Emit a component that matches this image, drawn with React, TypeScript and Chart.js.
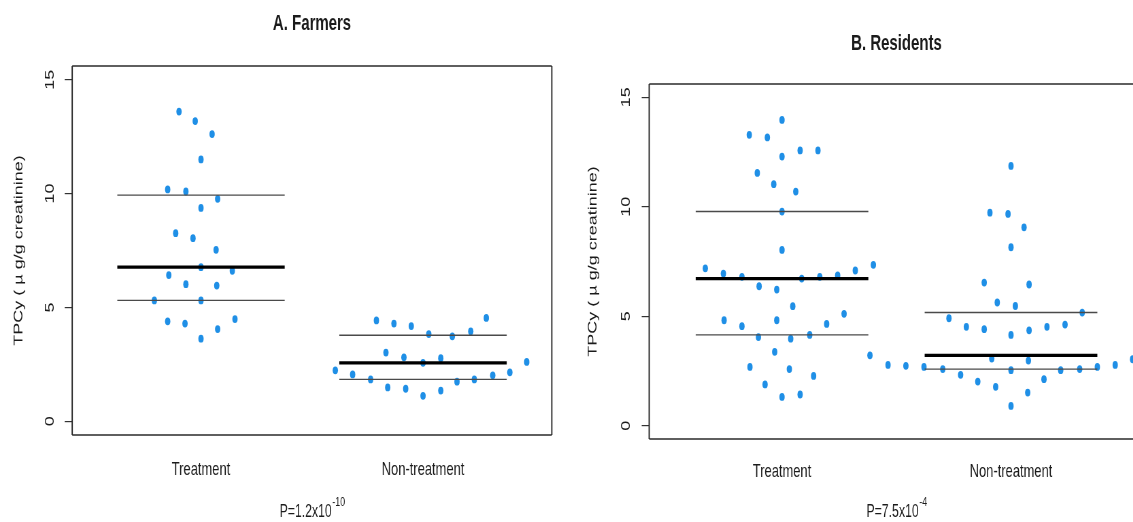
import React, { useEffect, useRef } from 'react';
import { Chart, registerables } from 'chart.js';

Chart.register(...registerables);

// ---------------- data ----------------
const categories = ['Treatment', 'Non-treatment'];
const yTickValues = [0, 5, 10, 15];
const yAxisTitle = 'TPCy ( µ g/g creatinine)';

// A. Farmers
const farmersTreatment = [13.6, 13.18, 12.61, 11.5, 10.18, 10.09, 9.77, 9.37, 8.26, 8.04, 7.53, 6.77, 6.61, 6.42, 6.02, 5.96, 5.31, 5.31, 4.39, 4.29, 4.49, 4.05, 3.63];
// horizontal beeswarm offsets (category units)
const farmersTreatmentSwarm = [-0.099, -0.026, 0.05, 0, -0.15, -0.068, 0.075, 0, -0.114, -0.036, 0.068, 0, 0.141, -0.145, -0.068, 0.071, -0.21, 0, -0.15, -0.072, 0.153, 0.075, 0];
const farmersControl = [4.43, 4.29, 4.18, 3.83, 3.73, 3.95, 4.54, 3.02, 2.81, 2.57, 2.77, 2.61, 2.24, 2.06, 1.84, 1.49, 1.43, 1.12, 1.35, 1.74, 1.84, 2.02, 2.15];
const farmersControlSwarm = [-0.21, -0.131, -0.053, 0.026, 0.132, 0.215, 0.285, -0.167, -0.086, 0, 0.08, 0.467, -0.395, -0.317, -0.236, -0.159, -0.078, 0, 0.08, 0.153, 0.231, 0.314, 0.391];

// B. Residents
const residentsTreatment = [13.96, 13.28, 13.16, 12.29, 12.57, 12.57, 11.54, 11.03, 10.69, 9.78, 8.03, 7.19, 6.95, 6.8, 6.72, 6.8, 6.86, 7.09, 7.35, 6.37, 6.22, 5.46, 5.11, 4.82, 4.55, 4.82, 4.65, 4.05, 3.98, 4.15, 3.38, 2.69, 2.59, 2.28, 1.89, 1.32, 1.43];
const residentsTreatmentSwarm = [0, -0.143, -0.064, 0, 0.079, 0.157, -0.108, -0.036, 0.06, 0, 0, -0.335, -0.256, -0.175, 0.086, 0.165, 0.243, 0.32, 0.399, -0.1, -0.023, 0.047, 0.271, -0.253, -0.175, -0.023, 0.195, -0.103, 0.038, 0.121, -0.032, -0.14, 0.032, 0.138, -0.074, 0, 0.079];
// last value lies beyond the cropped right edge (estimated)
const residentsControl = [11.86, 9.73, 9.67, 9.06, 8.15, 6.54, 6.45, 5.63, 5.47, 5.17, 4.91, 4.52, 4.41, 4.15, 4.36, 4.52, 4.62, 3.22, 2.78, 2.74, 2.69, 2.59, 2.33, 2.02, 1.78, 0.91, 1.52, 2.13, 2.54, 2.59, 2.69, 2.78, 3.04, 3.07, 2.98, 2.54, 3.35];
const residentsControlSwarm = [0, -0.092, -0.013, 0.057, 0, -0.117, 0.079, -0.06, 0.019, 0.311, -0.271, -0.195, -0.117, 0, 0.079, 0.157, 0.236, -0.616, -0.537, -0.459, -0.38, -0.298, -0.22, -0.145, -0.067, 0, 0.073, 0.144, 0.217, 0.3, 0.377, 0.455, 0.531, -0.084, 0.076, 0, 0.611];

// ---------------- style / layout ----------------
const SQUEEZE = 0.68; // the reference figure is horizontally compressed
const FAMILY = "'Liberation Sans', Arial, Helvetica, sans-serif";
const TEXT = '#1b1b1b';
const DOT = '#1F8FE6';
const HALF = 0.377;
const PAGE_H = 522;

const panels = [
  {
    key: 'A', title: 'A. Farmers', pMant: '1.2', pExp: '-10',
    left: 0, width: 570,
    frameLeft: 72.2, frameRight: 551.8, frameTop: 66, frameBottom: 435,
    titleBaseline: 30, tickLabelGap: 22, yTitleX: 19, catPad: 23, pBaseline: 517,
    treatment: farmersTreatment, treatmentSwarm: farmersTreatmentSwarm,
    control: farmersControl, controlSwarm: farmersControlSwarm,
  },
  {
    key: 'B', title: 'B. Residents', pMant: '7.5', pExp: '-4',
    left: 570, width: 600,
    frameLeft: 649.2, frameRight: 1143.8, frameTop: 84, frameBottom: 439,
    titleBaseline: 50, tickLabelGap: 23, yTitleX: 593, catPad: 21, pBaseline: 517,
    treatment: residentsTreatment, treatmentSwarm: residentsTreatmentSwarm,
    control: residentsControl, controlSwarm: residentsControlSwarm,
  },
];

function quantile(arr: number[], p: number) {
  const s = [...arr].sort((a, b) => a - b);
  const h = (s.length - 1) * p;
  const lo = Math.floor(h);
  const hi = Math.min(lo + 1, s.length - 1);
  return s[lo] + (h - lo) * (s[hi] - s[lo]);
}

const panelTextPlugin = {
  id: 'panelText',
  afterDraw(chart: any, _args: any, opts: any) {
    const { ctx, chartArea } = chart;
    const { left, right, top, bottom } = chartArea;
    ctx.save();
    // box around plot region
    ctx.strokeStyle = '#2b2b2b';
    ctx.lineWidth = 1.3;
    ctx.beginPath();
    ctx.moveTo(left, top); ctx.lineTo(right, top);
    ctx.moveTo(left, bottom); ctx.lineTo(right, bottom);
    ctx.stroke();
    ctx.lineWidth = 1.3 / SQUEEZE;
    ctx.beginPath();
    ctx.moveTo(left, top); ctx.lineTo(left, bottom);
    ctx.moveTo(right, top); ctx.lineTo(right, bottom);
    ctx.stroke();

    const cx = (left + right) / 2;
    ctx.fillStyle = TEXT;
    ctx.textBaseline = 'alphabetic';
    ctx.textAlign = 'center';
    ctx.font = `bold 22px ${FAMILY}`;
    ctx.fillText(opts.title, cx, opts.titleBaseline);

    const base = `P=${opts.pMant}x10`;
    ctx.font = `18px ${FAMILY}`;
    const w1 = ctx.measureText(base).width;
    ctx.font = `13px ${FAMILY}`;
    const w2 = ctx.measureText(opts.pExp).width;
    const x0 = cx - (w1 + w2) / 2;
    ctx.textAlign = 'left';
    ctx.font = `18px ${FAMILY}`;
    ctx.fillText(base, x0, opts.pBaseline);
    ctx.font = `13px ${FAMILY}`;
    ctx.fillText(opts.pExp, x0 + w1 + 1, opts.pBaseline - 11);
    ctx.restore();
  },
};

function buildConfig(s: any) {
  const W = Math.round(s.width / SQUEEZE);
  const u = (x: number) => (x - s.left) / SQUEEZE;
  const groups = [
    { vals: s.treatment, swarm: s.treatmentSwarm, pos: 1 },
    { vals: s.control, swarm: s.controlSwarm, pos: 2 },
  ];
  const lineSets: any[] = [];
  groups.forEach((g) => {
    [
      { q: 0.5, w: 3.3, c: '#000000' },
      { q: 0.25, w: 1.4, c: '#4a4a4a' },
      { q: 0.75, w: 1.4, c: '#4a4a4a' },
    ].forEach((st) => {
      const v = quantile(g.vals, st.q);
      lineSets.push({
        type: 'line',
        data: [{ x: g.pos - HALF, y: v }, { x: g.pos + HALF, y: v }],
        borderColor: st.c,
        borderWidth: st.w,
        pointRadius: 0,
        borderCapStyle: 'butt',
        order: 0,
      });
    });
  });
  const dotSets = groups.map((g) => ({
    type: 'scatter',
    data: g.vals.map((v: number, i: number) => ({ x: g.pos + g.swarm[i], y: v })),
    backgroundColor: DOT,
    borderWidth: 0,
    pointRadius: 3.9,
    pointBorderWidth: 0,
    order: 1,
  }));
  const tickLen = 7.5 / SQUEEZE;
  return {
    type: 'scatter',
    data: { datasets: [...lineSets, ...dotSets] },
    plugins: [panelTextPlugin],
    options: {
      responsive: false,
      animation: false,
      devicePixelRatio: 1,
      events: [],
      layout: { padding: { top: s.frameTop, right: W - u(s.frameRight), left: 0, bottom: 0 } },
      plugins: {
        legend: { display: false },
        tooltip: { enabled: false },
        panelText: {
          title: s.title, titleBaseline: s.titleBaseline,
          pMant: s.pMant, pExp: s.pExp, pBaseline: s.pBaseline,
        },
      },
      scales: {
        x: {
          type: 'linear', min: 0.42, max: 2.58,
          afterBuildTicks: (sc: any) => { sc.ticks = [1, 2].map((value) => ({ value })); },
          afterFit: (sc: any) => { sc.height = PAGE_H - s.frameBottom; },
          grid: { display: false, drawTicks: false },
          border: { display: false },
          ticks: {
            callback: (v: any) => categories[Math.round(v) - 1] ?? '',
            font: { family: FAMILY, size: 19 },
            color: TEXT,
            padding: s.catPad,
            maxRotation: 0, minRotation: 0, autoSkip: false,
          },
        },
        y: {
          type: 'linear', min: -0.6, max: 15.6,
          afterBuildTicks: (sc: any) => { sc.ticks = yTickValues.map((value) => ({ value })); },
          afterFit: (sc: any) => { sc.width = u(s.frameLeft); },
          grid: { drawOnChartArea: false, drawTicks: true, tickLength: tickLen, color: '#333', lineWidth: 1.2 },
          border: { display: false },
          ticks: {
            callback: (v: any) => String(v),
            font: { family: FAMILY, size: 18 },
            color: TEXT,
            minRotation: 90, maxRotation: 90,
            crossAlign: 'center',
            padding: s.tickLabelGap / SQUEEZE - tickLen - 10,
            autoSkip: false,
          },
          title: {
            display: true, text: yAxisTitle,
            font: { family: FAMILY, size: 18 },
            color: TEXT,
            padding: { top: u(s.yTitleX) - 10.8, bottom: 0 },
          },
        },
      },
    },
  };
}

function Panel({ spec }: { spec: any }) {
  const ref = useRef<HTMLCanvasElement>(null);
  useEffect(() => {
    const chart = new Chart(ref.current as HTMLCanvasElement, buildConfig(spec) as any);
    return () => chart.destroy();
  }, [spec]);
  const w = Math.round(spec.width / SQUEEZE);
  return (
    <canvas
      ref={ref}
      width={w}
      height={PAGE_H}
      style={{
        position: 'absolute', left: spec.left, top: 0,
        width: w, height: PAGE_H,
        transform: `scaleX(${SQUEEZE})`, transformOrigin: '0 0',
      }}
    />
  );
}

export default function App() {
  return (
    <div style={{ position: 'fixed', left: 0, top: 0, width: 1133, height: PAGE_H, overflow: 'hidden', background: '#fff' }}>
      {panels.map((p) => <Panel key={p.key} spec={p} />)}
    </div>
  );
}
